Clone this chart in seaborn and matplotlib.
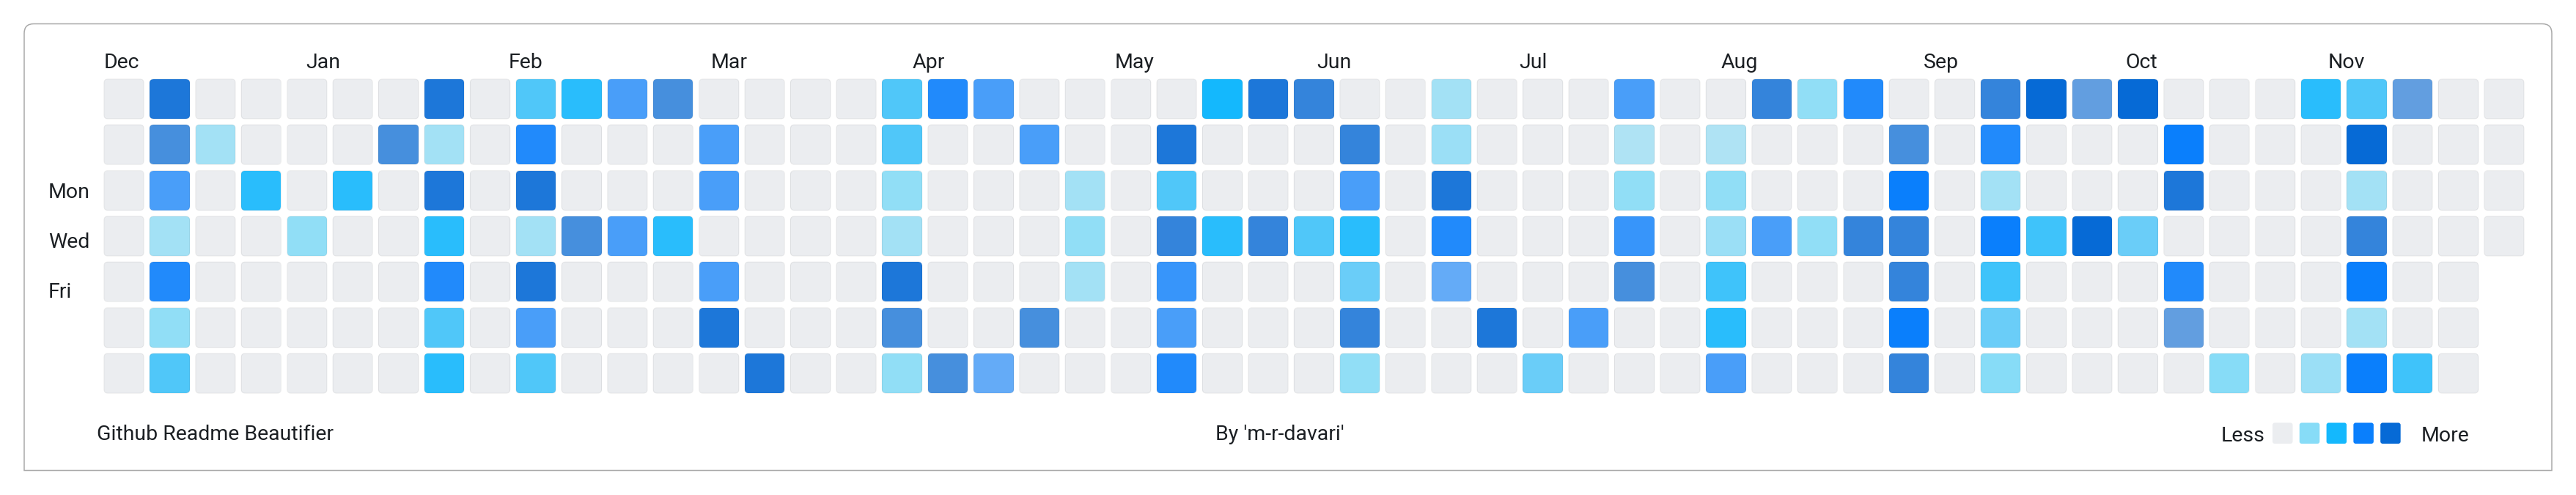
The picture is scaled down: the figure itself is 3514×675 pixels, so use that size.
#GitHub style contribution calendar (blue theme)
import numpy as np
import pandas as pd
import matplotlib
matplotlib.use("Agg")
import matplotlib.pyplot as plt
import seaborn as sns
from matplotlib.colors import ListedColormap, to_rgb
from matplotlib.patches import FancyBboxPatch, PathPatch
from matplotlib.path import Path

# Data: contribution intensity per day (0 = none, 1-20 = level/shade), rows = weekdays, cols = weeks
months = ["Dec", "Jan", "Feb", "Mar", "Apr", "May", "Jun", "Jul", "Aug", "Sep", "Oct", "Nov"]
days = ["Sun", "Mon", "Tue", "Wed", "Thu", "Fri", "Sat"]
day_labels = ["Mon", "Wed", "Fri"]

sun = [0,19,0,0,0,0,0,19,0,7, 9,12,17,0,0,0,0,7,14,12, 0,0,0,0,10,19,18,0,0,2,
       0,0,0,12,0,0,18,4,14,0, 0,18,20,16,20,0,0,0,9,7, 16,0,0]
mon = [0,17,2,0,0,0,17,2,0,14, 0,0,0,12,0,0,0,7,0,0, 12,0,0,19,0,0,0,18,0,3,
       0,0,0,1,0,1,0,0,0,17, 0,14,0,0,0,15,0,0,0,20, 0,0,0]
tue = [0,12,0,9,0,9,0,19,0,19, 0,0,0,12,0,0,0,4,0,0, 0,2,0,7,0,0,0,12,0,19,
       0,0,0,4,0,4,0,0,0,15, 0,2,0,0,0,19,0,0,0,2, 0,0,0]
wed = [0,2,0,0,4,0,0,9,0,2, 17,12,9,0,0,0,0,2,0,0, 0,4,0,18,9,18,7,9,0,14,
       0,0,0,13,0,3,12,4,18,18, 0,15,8,20,6,0,0,0,0,18, 0,0,0]
thu = [0,14,0,0,0,0,0,14,0,19, 0,0,0,12,0,0,0,19,0,0, 0,2,0,13,0,0,0,6,0,11,
       0,0,0,17,0,8,0,0,0,18, 0,8,0,0,0,14,0,0,0,15, 0,0,None]
fri = [0,4,0,0,0,0,0,7,0,12, 0,0,0,19,0,0,0,17,0,0, 17,0,0,12,0,0,0,18,0,0,
       19,0,12,0,0,9,0,0,0,15, 0,6,0,0,0,16,0,0,0,2, 0,0,None]
sat = [0,7,0,0,0,0,0,9,0,7, 0,0,0,0,19,0,0,4,17,11, 0,0,0,14,0,0,0,4,0,0,
       0,6,0,0,0,12,0,0,0,18, 0,5,0,0,0,0,5,0,3,15, 8,0,None]

grid = pd.DataFrame([sun, mon, tue, wed, thu, fri, sat], index=days, dtype=float)

# Colours: 4 levels, each with 5 opacity shades laid over the empty-cell grey
empty = "#ebedf0"
level_colors = ["#87dcf7", "#14b8fd", "#0a7ffc", "#066ad6"]
shade_alpha = [0.6, 0.72, 0.8, 0.9, 1.0]

def mix(c, a):
    return tuple(a * x + (1 - a) * y for x, y in zip(to_rgb(c), to_rgb(empty)))

cmap = ListedColormap([to_rgb(empty)] + [mix(c, a) for c in level_colors for a in shade_alpha])

text_color = "#1b1f23"
font = "Roboto"
fs = 20.5

W, H = 3514, 675
fig = plt.figure(figsize=(W / 100, H / 100), dpi=100)

# background canvas in pixel coordinates
bg = fig.add_axes([0, 0, 1, 1])
bg.set_xlim(0, W)
bg.set_ylim(H, 0)
bg.axis("off")

x0, y0, x1, y1, r = 33, 32.5, 3481, 641.5, 13
card = Path([(x0, y1), (x0, y0 + r), (x0, y0), (x0 + r, y0), (x1 - r, y0), (x1, y0), (x1, y0 + r), (x1, y1), (x0, y1)],
            [Path.MOVETO, Path.LINETO, Path.CURVE3, Path.CURVE3, Path.LINETO, Path.CURVE3, Path.CURVE3, Path.LINETO, Path.CLOSEPOLY])
bg.add_patch(PathPatch(card, facecolor="white", edgecolor="#a9a9a9", lw=1.1))

# heatmap
ax = fig.add_axes([137.8 / W, (H - 540.25) / H, 3309.3 / W, 436.5 / H])
sns.heatmap(grid, ax=ax, cmap=cmap, vmin=-0.5, vmax=20.5, cbar=False,
            xticklabels=False, yticklabels=False)
ax.patch.set_alpha(0)

gap = 0.13
rs = 0.085
cells = [(c, rr) for rr in range(grid.shape[0]) for c in range(grid.shape[1]) if not np.isnan(grid.iat[rr, c])]
paths = [FancyBboxPatch((c + gap / 2, rr + gap / 2), 1 - gap, 1 - gap,
                        boxstyle=f"round,pad=0,rounding_size={rs}").get_path() for c, rr in cells]
cell_path = Path.make_compound_path(*paths)
ax.collections[0].set_clip_path(cell_path, ax.transData)
ax.add_patch(PathPatch(cell_path, facecolor="none", edgecolor=(0.106, 0.122, 0.137, 0.07), lw=0.8))

# month labels spread evenly over the weeks
n_weeks = grid.shape[1]
for i, m in enumerate(months):
    ax.text(gap / 2 + i * n_weeks / len(months), -0.166, m, ha="left", va="baseline",
            fontsize=fs, color=text_color, family=font, clip_on=False)

# weekday labels
for k, d in enumerate(day_labels):
    bg.text(66, 270.4 + 67.8 * k, d, ha="left", va="baseline", fontsize=fs, color=text_color, family=font)

# footer
bg.text(132, 599.5, "Github Readme Beautifier", ha="left", va="baseline", fontsize=fs, color=text_color, family=font)
bg.text(1658, 599.5, "By 'm-r-davari'", ha="left", va="baseline", fontsize=fs, color=text_color, family=font)

# legend
bg.text(3030, 601.5, "Less", ha="left", va="baseline", fontsize=fs, color=text_color, family=font)
for k, c in enumerate([empty] + level_colors):
    bg.add_patch(FancyBboxPatch((3100 + 36.8 * k, 576.5), 27.5, 28.5,
                                boxstyle="round,pad=0,rounding_size=3", facecolor=c, edgecolor="none"))
bg.text(3303, 601.5, "More", ha="left", va="baseline", fontsize=fs, color=text_color, family=font)

fig.savefig("out.png", dpi=100, facecolor="white")
